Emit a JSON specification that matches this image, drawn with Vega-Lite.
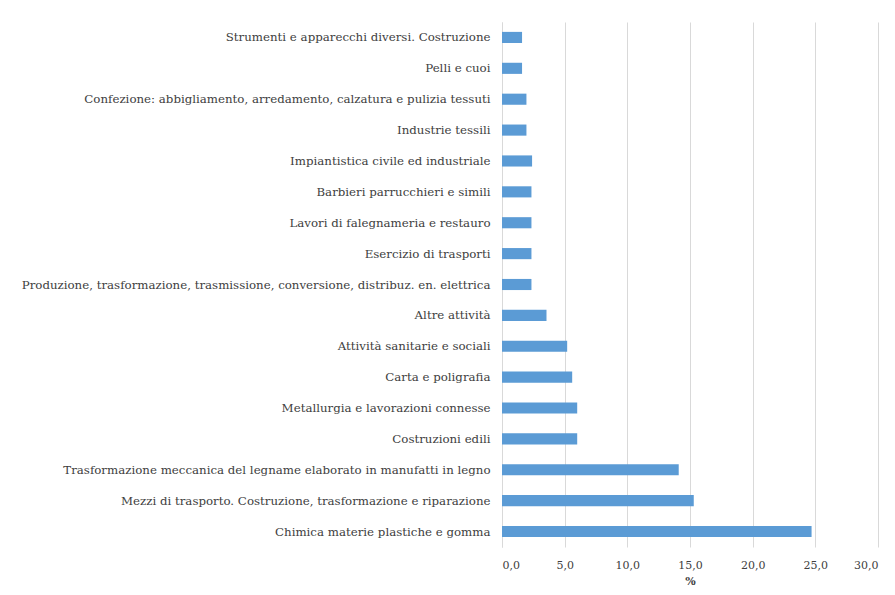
{
  "$schema": "https://vega.github.io/schema/vega-lite/v6.json",
  "autosize": {"type": "none"},
  "padding": {"left": 502, "top": 22, "right": 17, "bottom": 48},
  "width": 376,
  "height": 525,
  "background": "white",
  "data": {"values": [
    {"settore": "Strumenti e apparecchi diversi. Costruzione", "pct": 1.6},
    {"settore": "Pelli e cuoi", "pct": 1.6},
    {"settore": "Confezione: abbigliamento, arredamento, calzatura e pulizia tessuti", "pct": 1.95},
    {"settore": "Industrie tessili", "pct": 1.95},
    {"settore": "Impiantistica civile ed industriale", "pct": 2.4},
    {"settore": "Barbieri parrucchieri e simili", "pct": 2.35},
    {"settore": "Lavori di falegnameria e restauro", "pct": 2.35},
    {"settore": "Esercizio di trasporti", "pct": 2.35},
    {"settore": "Produzione, trasformazione, trasmissione, conversione, distribuz. en. elettrica", "pct": 2.35},
    {"settore": "Altre attività", "pct": 3.55},
    {"settore": "Attività sanitarie e sociali", "pct": 5.2},
    {"settore": "Carta e poligrafia", "pct": 5.6},
    {"settore": "Metallurgia e lavorazioni connesse", "pct": 6.0},
    {"settore": "Costruzioni edili", "pct": 6.0},
    {"settore": "Trasformazione meccanica del legname elaborato in manufatti in legno", "pct": 14.1},
    {"settore": "Mezzi di trasporto. Costruzione, trasformazione e riparazione", "pct": 15.3},
    {"settore": "Chimica materie plastiche e gomma", "pct": 24.7}
  ]},
  "mark": {"type": "bar", "color": "#5b9bd5"},
  "encoding": {
    "y": {
      "field": "settore", "type": "nominal", "sort": null,
      "scale": {"paddingInner": 0.64, "paddingOuter": 0.32},
      "axis": {
        "title": null, "ticks": false, "domain": true, "domainColor": "#d9d9d9",
        "labelFont": "DejaVu Serif", "labelFontSize": 11.8, "labelColor": "#404040",
        "labelPadding": 12, "labelLimit": 600, "grid": false
      }
    },
    "x": {
      "field": "pct", "type": "quantitative",
      "scale": {"domain": [0, 30], "nice": false},
      "axis": {
        "title": "%", "titleFont": "DejaVu Serif", "titleFontSize": 11, "titleFontWeight": "bold",
        "titleColor": "#404040", "titlePadding": 5,
        "values": [0, 5, 10, 15, 20, 25, 30],
        "labelExpr": "replace(format(datum.value, '.1f'), '.', ',')",
        "labelFont": "DejaVu Serif", "labelFontSize": 11, "labelColor": "#404040",
        "labelPadding": 12, "ticks": false, "domain": false,
        "grid": true, "gridColor": "#d9d9d9"
      }
    }
  },
  "config": {"view": {"stroke": null}}
}
